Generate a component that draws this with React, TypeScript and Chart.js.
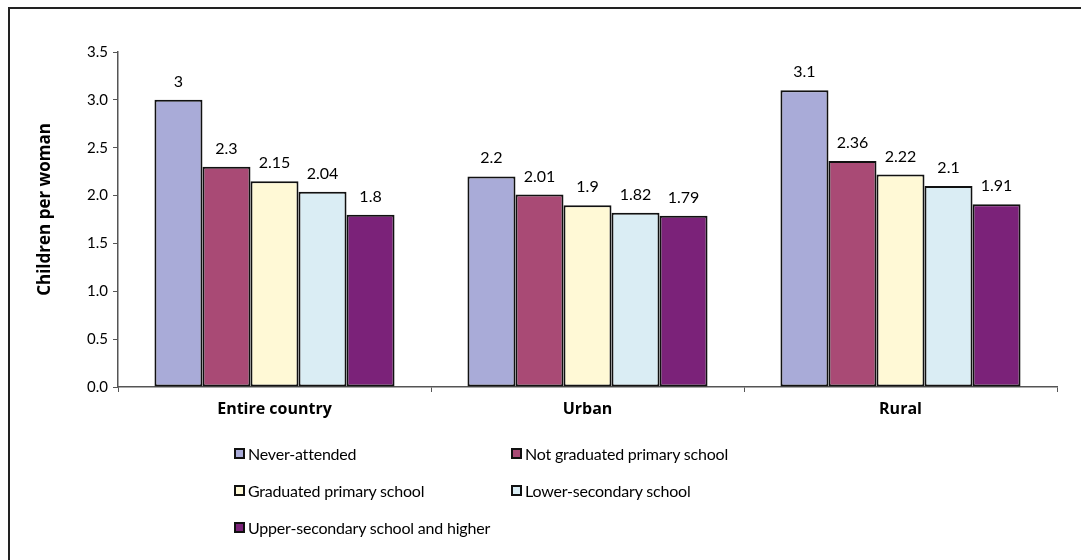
import React, { useEffect, useRef } from "react";
import { Chart, registerables } from "chart.js";

Chart.register(...registerables);

const categories = ["Entire country", "Urban", "Rural"];
const seriesNames = [
  "Never-attended",
  "Not graduated primary school",
  "Graduated primary school",
  "Lower-secondary school",
  "Upper-secondary school and higher",
];
const neverAttended = [3, 2.2, 3.1];
const notGraduatedPrimary = [2.3, 2.01, 2.36];
const graduatedPrimary = [2.15, 1.9, 2.22];
const lowerSecondary = [2.04, 1.82, 2.1];
const upperSecondary = [1.8, 1.79, 1.91];
const seriesColors = ["#A9ABD8", "#A94A75", "#FFF9D6", "#DAEDF4", "#7B2279"];
const yTickLabels = ["0.0", "0.5", "1.0", "1.5", "2.0", "2.5", "3.0", "3.5"];
const yAxisTitle = "Children per woman";

const seriesValues = [neverAttended, notGraduatedPrimary, graduatedPrimary, lowerSecondary, upperSecondary];

const FONT = "Lato, 'Noto Sans', sans-serif";
const BOLD_FONT = "'Open Sans', 'Noto Sans', sans-serif";

const dataLabelPlugin = {
  id: "dataLabels",
  afterDatasetsDraw(chart: any) {
    const ctx = chart.ctx;
    ctx.save();
    ctx.font = `16px ${FONT}`;
    ctx.fillStyle = "#000";
    ctx.textAlign = "center";
    ctx.textBaseline = "alphabetic";
    chart.data.datasets.forEach((ds: any, i: number) => {
      const meta = chart.getDatasetMeta(i);
      meta.data.forEach((bar: any, j: number) => {
        ctx.fillText(String(ds.data[j]), bar.x, bar.y - 13);
      });
    });
    ctx.restore();
  },
};

const yTitlePlugin = {
  id: "yTitle",
  afterDraw(chart: any) {
    const ctx = chart.ctx;
    const area = chart.chartArea;
    ctx.save();
    ctx.translate(45, (area.top + area.bottom) / 2 - 10);
    ctx.rotate(-Math.PI / 2);
    ctx.font = `bold 17px ${BOLD_FONT}`;
    ctx.fillStyle = "#000";
    ctx.textAlign = "center";
    ctx.textBaseline = "middle";
    ctx.fillText(yAxisTitle, 0, 0);
    ctx.restore();
  },
};

export default function App() {
  const canvasRef = useRef<HTMLCanvasElement | null>(null);

  useEffect(() => {
    if (!canvasRef.current) return;
    const chart = new Chart(canvasRef.current, {
      type: "bar",
      data: {
        labels: categories,
        datasets: seriesNames.map((name, i) => ({
          label: name,
          data: seriesValues[i],
          backgroundColor: seriesColors[i],
          borderColor: "#111",
          borderWidth: 2,
          borderSkipped: false,
          barPercentage: 1,
          categoryPercentage: 0.767,
        })),
      },
      options: {
        responsive: false,
        animation: false,
        devicePixelRatio: 1,
        layout: { padding: { left: 0, right: 24, top: 52, bottom: 0 } },
        plugins: {
          legend: { display: false },
          tooltip: { enabled: false },
        },
        scales: {
          x: {
            afterFit: (scale: any) => {
              scale.height = 173;
            },
            grid: {
              drawOnChartArea: false,
              drawTicks: true,
              tickLength: 5,
              color: "#555",
              offset: true,
            },
            border: { color: "#555", width: 1.5 },
            ticks: {
              color: "#000",
              padding: 8,
              font: { family: BOLD_FONT, size: 16, weight: "bold" },
            },
          },
          y: {
            min: 0,
            max: 3.5,
            afterFit: (scale: any) => {
              scale.width = 118;
            },
            grid: {
              drawOnChartArea: false,
              drawTicks: true,
              tickLength: 5,
              color: "#555",
            },
            border: { color: "#555", width: 1.5 },
            ticks: {
              stepSize: 0.5,
              color: "#000",
              padding: 5,
              font: { family: FONT, size: 15 },
              callback: (v: any) => yTickLabels[Math.round(Number(v) / 0.5)] ?? String(v),
            },
          },
        },
      },
      plugins: [dataLabelPlugin, yTitlePlugin],
    });
    return () => chart.destroy();
  }, []);

  const legendRows = [
    [0, 1],
    [2, 3],
    [4],
  ];
  const colLeft = [234, 511];
  const rowCenter = [453, 490, 527];

  return (
    <div style={{ position: "absolute", left: 0, top: 0, width: 1081, height: 560, background: "#fff", overflow: "hidden" }}>
      <div
        style={{
          position: "absolute",
          left: 8,
          top: 7,
          right: -5,
          bottom: -5,
          borderTop: "2px solid #222",
          borderLeft: "2px solid #222",
        }}
      />
      <canvas ref={canvasRef} width={1081} height={560} style={{ position: "absolute", left: 0, top: 0 }} />
      {legendRows.map((row, r) =>
        row.map((si, c) => (
          <div
            key={si}
            style={{
              position: "absolute",
              left: colLeft[c],
              top: rowCenter[r] - 11,
              height: 22,
              display: "flex",
              alignItems: "center",
              fontFamily: FONT,
              fontSize: 16,
              letterSpacing: "-0.2px",
              color: "#000",
              whiteSpace: "nowrap",
            }}
          >
            <span
              style={{
                display: "inline-block",
                width: 7,
                height: 7,
                border: "2px solid #111",
                background: seriesColors[si],
                marginRight: 3,
              }}
            />
            <span>{seriesNames[si]}</span>
          </div>
        ))
      )}
    </div>
  );
}
